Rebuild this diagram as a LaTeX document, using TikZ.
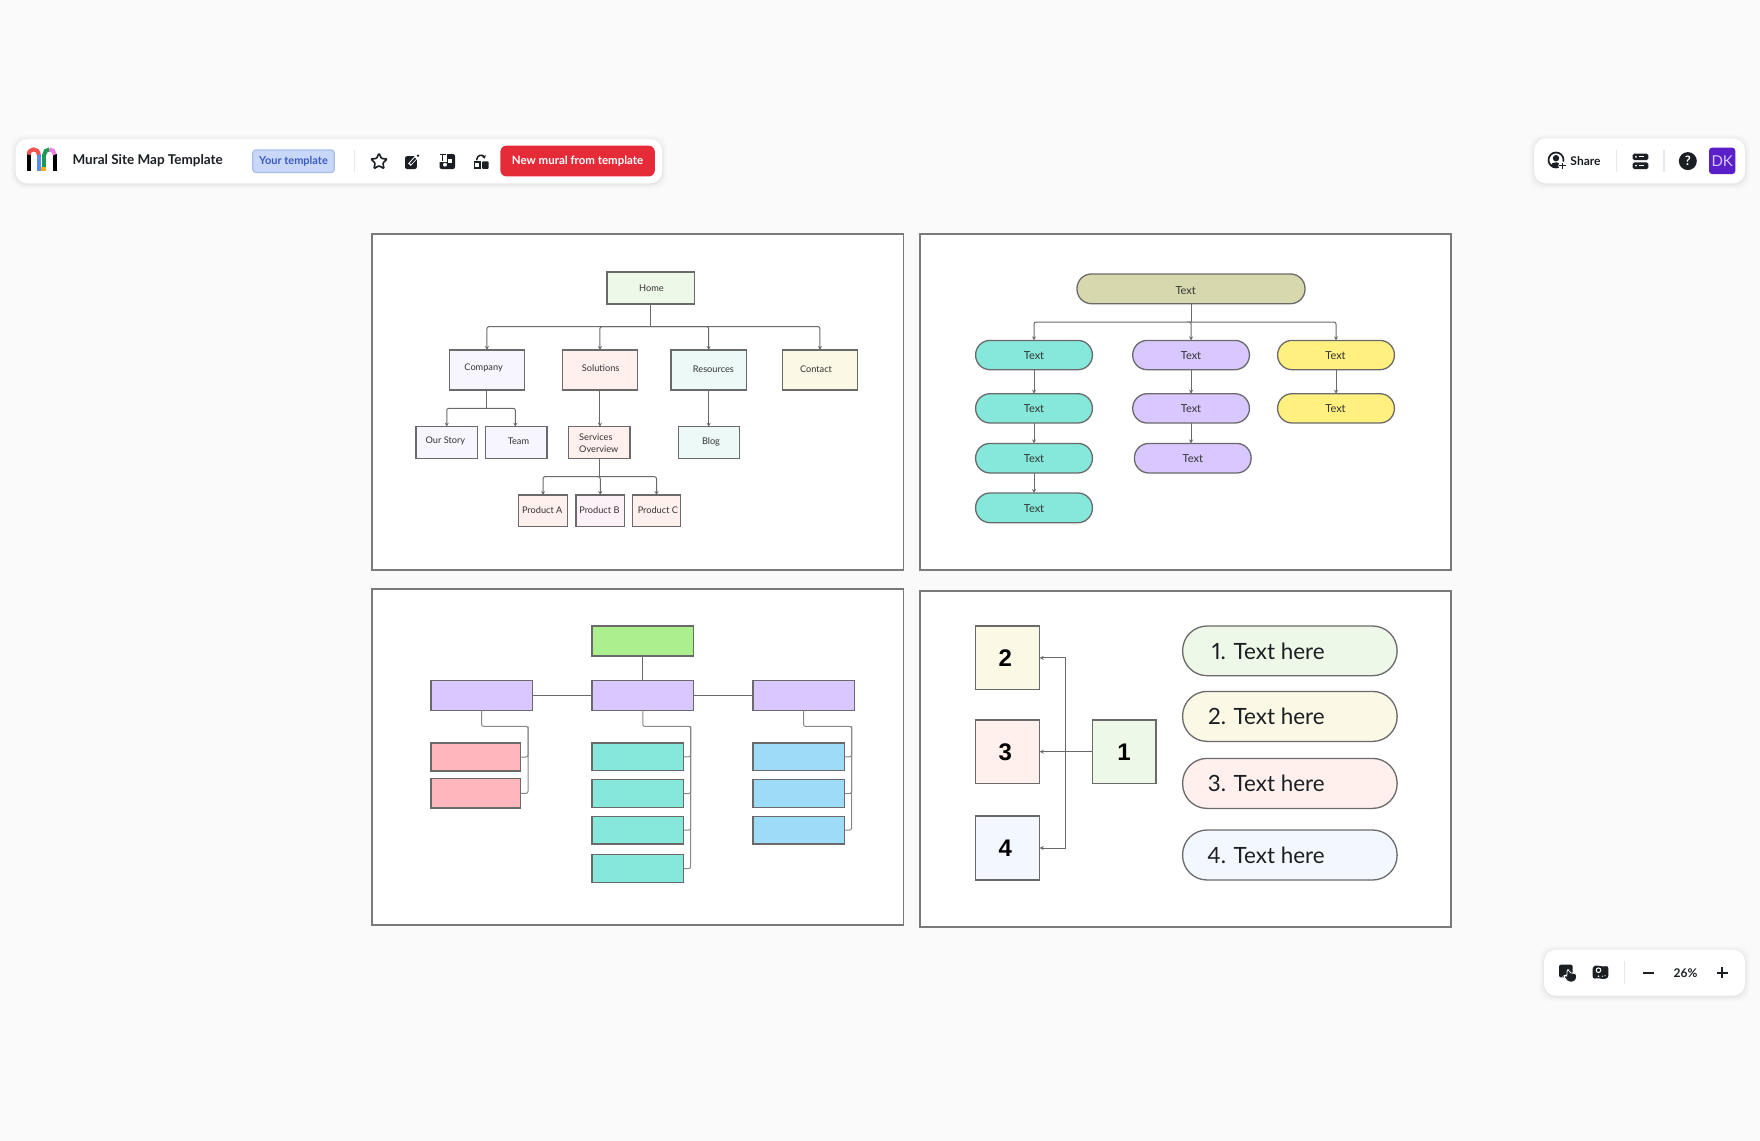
\documentclass[tikz,border=0pt]{standalone}
\usepackage{fontspec}
\setmainfont{Lato}
\newfontfamily\boldface{Liberation Sans}
\newfontfamily\propface[Numbers=Proportional]{Lato}
\usetikzlibrary{arrows.meta,shapes.geometric}
\definecolor{bgc}{HTML}{FAFAFA}
\definecolor{ink}{HTML}{1B1F23}
\definecolor{edgec}{HTML}{6A6A6A}
\definecolor{framec}{HTML}{7A7A7A}
\definecolor{sepc}{HTML}{E4E9F0}
\definecolor{txt}{HTML}{333333}
\definecolor{fgreen}{HTML}{EEF8E8}
\definecolor{flav}{HTML}{F7F6FE}
\definecolor{fpink}{HTML}{FFF0EE}
\definecolor{fmint}{HTML}{ECF9F7}
\definecolor{fcream}{HTML}{FBF8E6}
\definecolor{frose}{HTML}{FCF1F7}
\definecolor{fblue}{HTML}{F3F8FF}
\definecolor{olive}{HTML}{D8D8AE}
\definecolor{teal}{HTML}{86E8DA}
\definecolor{purp}{HTML}{D9C7FF}
\definecolor{yell}{HTML}{FFF07F}
\definecolor{lime}{HTML}{ABEF8F}
\definecolor{rosy}{HTML}{FFB7BD}
\definecolor{sky}{HTML}{9EDBF9}
\tikzset{
  panelbox/.style={draw=framec,line width=1.6pt,fill=white,rectangle,inner sep=0pt,outer sep=0pt},
  sitebox/.style={draw=edgec,line width=1.3pt,rectangle,inner sep=0pt,outer sep=0pt},
  pillbox/.style={draw=edgec,line width=1.3pt,rectangle,inner sep=0pt,outer sep=0pt,rounded corners=14.5pt},
  bigpill/.style={draw=edgec,line width=1.3pt,rectangle,inner sep=0pt,outer sep=0pt,rounded corners=24.5pt},
  conn/.style={draw=edgec,line width=1pt,rounded corners=2pt},
  arrowed/.style={conn,-{Stealth[length=4pt,width=4pt]}},
  lbl/.style={text=txt,inner sep=0pt,yshift=-0.5pt,font=\fontsize{9.2}{11.3}\selectfont},
  pilltext/.style={text=txt,inner sep=0pt,yshift=-0.5pt,font=\fontsize{11}{13}\selectfont},
  bigtext/.style={text=ink,inner sep=0pt,anchor=east,font=\propface\fontsize{22.4}{26}\selectfont},
  numtext/.style={text=black,inner sep=0pt,yshift=-0.4pt,font=\boldface\bfseries\fontsize{24}{28}\selectfont},
  bartext/.style={text=ink,inner sep=0pt,yshift=-0.6pt,font=\bfseries\fontsize{12}{14}\selectfont},
  sepline/.style={draw=sepc,line width=1.2pt},
  icon/.style={fill=ink,draw=none},
  logostroke/.style={line width=4pt,line cap=butt},
}
\newcommand{\bx}[6]{\node[#6,minimum width={(#4-#2)*1pt},minimum height={(#5-#3)*1pt}] (#1) at ({(#2+#4)/2},{(#3+#5)/2}) {};}
\newcommand{\toolbar}[5]{%
  \foreach \g/\o in {5/0.012,3.5/0.015,2/0.02,1/0.025}{\fill[black,opacity=\o,rounded corners=13pt] ({#2-\g},{#3-\g+1}) rectangle ({#4+\g},{#5+\g+1});}
  \bx{#1}{#2}{#3}{#4}{#5}{fill=white,rectangle,rounded corners=12pt,inner sep=0pt}}
\begin{document}
\begin{tikzpicture}[x=1pt,y=-1pt]
\useasboundingbox (0,-0.7) rectangle (1760,1139.3);
\fill[bgc] (0,-2) rectangle (1760,1142);

% panels
\bx{p1}{372}{233.5}{903.5}{569}{panelbox}
\bx{p2}{920}{233.5}{1451}{569}{panelbox}
\bx{p3}{372}{588.5}{903.5}{924.5}{panelbox}
\bx{p4}{920}{590}{1451}{926}{panelbox}

% ---------- panel 1
\bx{home}{607}{271.3}{694.8}{303.3}{sitebox,fill=fgreen}
\bx{company}{449.2}{349.3}{524.6}{389.3}{sitebox,fill=flav}
\bx{solutions}{562.2}{349.3}{637.6}{389.3}{sitebox,fill=fpink}
\bx{resources}{671}{349.3}{746.4}{389.3}{sitebox,fill=fmint}
\bx{contact}{782.2}{349.3}{857.7}{389.3}{sitebox,fill=fcream}
\bx{story}{416.1}{426}{477.4}{458}{sitebox,fill=flav}
\bx{team}{485.7}{426}{547}{458}{sitebox,fill=flav}
\bx{services}{568.7}{426}{630}{458}{sitebox,fill=fpink}
\bx{blog}{678.2}{426}{739.5}{458}{sitebox,fill=fmint}
\bx{proda}{518.8}{494.3}{567.3}{525.7}{sitebox,fill=fpink}
\bx{prodb}{576}{494.3}{624.5}{525.7}{sitebox,fill=frose}
\bx{prodc}{632.4}{494.3}{680.6}{525.7}{sitebox,fill=fpink}
\node[lbl] (thome) at (651.4,287.3) {Home};
\node[lbl] (tcompany) at (483.6,367) {Company};
\node[lbl] (tsolutions) at (600.7,367) {Solutions};
\node[lbl] (tresources) at (713.4,368) {Resources};
\node[lbl] (tcontact) at (816,368) {Contact};
\node[lbl] (tstory) at (445.4,440) {Our Story};
\node[lbl] (tteam) at (518.4,440) {Team};
\node[lbl,anchor=west,align=left] (tservices) at (579,442) {Services\\Overview};
\node[lbl] (tblog) at (711,440.3) {Blog};
\node[lbl] (tproda) at (542.2,508.7) {Product A};
\node[lbl] (tprodb) at (599.4,508.7) {Product B};
\node[lbl] (tprodc) at (657.9,508.7) {Product C};
\coordinate (bus1) at (home.south |- 0,326);
\coordinate (bus2) at (company.south |- 0,407.7);
\coordinate (bus3) at (services.south |- 0,476);
\draw[conn] (home.south) -- (bus1);
\foreach \n in {company,solutions,resources,contact}{\draw[arrowed] (bus1) -| (\n.north);}
\draw[conn] (company.south) -- (bus2);
\draw[arrowed] (bus2) -| (story.north);
\draw[arrowed] (bus2) -| ([xshift=-1pt]team.north);
\draw[arrowed] (solutions.south) -- (services.north -| solutions.south);
\draw[arrowed] (resources.south) -- (blog.north -| resources.south);
\draw[conn] (services.south) -- (bus3);
\foreach \n in {proda,prodb,prodc}{\draw[arrowed] (bus3) -| (\n.north);}

% ---------- panel 2
\bx{troot}{1077}{273.3}{1305}{303}{pillbox,fill=olive}
\bx{ta}{975.6}{339.7}{1092.4}{369}{pillbox,fill=teal}
\bx{tb}{975.6}{393}{1092.4}{422.3}{pillbox,fill=teal}
\bx{tc}{975.6}{442.7}{1092.4}{472.3}{pillbox,fill=teal}
\bx{td}{975.6}{492.3}{1092.4}{522}{pillbox,fill=teal}
\bx{pa}{1132.7}{339.7}{1249.4}{369}{pillbox,fill=purp}
\bx{pb}{1132.7}{393}{1249.4}{422.3}{pillbox,fill=purp}
\bx{pc}{1134.4}{442.7}{1251.1}{472.3}{pillbox,fill=purp}
\bx{ya}{1277.6}{339.7}{1394.4}{369}{pillbox,fill=yell}
\bx{yb}{1277.6}{393}{1394.4}{422.3}{pillbox,fill=yell}
\node[pilltext] (ttroot) at (1185.7,289.3) {Text};
\foreach \n/\xx/\yy in {ta/1034/354,tb/1034/407,tc/1034/457.7,td/1034/507,pa/1191/354,pb/1191/407,pc/1192.8/457.7,ya/1335.5/354,yb/1335.5/407}{
  \node[pilltext] (t\n) at (\xx,\yy) {Text};}
\coordinate (bus4) at (troot.south |- 0,321.3);
\draw[conn] (troot.south) -- (bus4);
\foreach \n in {ta,pa,ya}{\draw[arrowed] (bus4) -| (\n.north);}
\draw[arrowed] (ta) -- (tb);
\draw[arrowed] (tb) -- (tc);
\draw[arrowed] (tc) -- (td);
\draw[arrowed] (pa) -- (pb);
\draw[arrowed] (pb.south) -- (pc.north -| pb.south);
\draw[arrowed] (ya) -- (yb);

% ---------- panel 3
\bx{top}{592.1}{625.3}{693.4}{655.3}{sitebox,fill=lime}
\bx{ml}{431}{679.7}{532.2}{709.7}{sitebox,fill=purp}
\bx{mm}{592.1}{679.7}{693.4}{709.7}{sitebox,fill=purp}
\bx{mr}{753}{679.7}{854.2}{709.7}{sitebox,fill=purp}
\bx{ra}{431}{742.3}{520.5}{770.3}{sitebox,fill=rosy}
\bx{rb}{431}{778}{520.5}{807.3}{sitebox,fill=rosy}
\bx{ga}{592.1}{742.3}{683.7}{770}{sitebox,fill=teal}
\bx{gb}{592.1}{779}{683.7}{806.7}{sitebox,fill=teal}
\bx{gc}{592.1}{815.7}{683.7}{843.3}{sitebox,fill=teal}
\bx{gd}{592.1}{854}{683.7}{881.7}{sitebox,fill=teal}
\bx{sa}{753}{742.3}{844.6}{770}{sitebox,fill=sky}
\bx{sb}{753}{779}{844.6}{806.7}{sitebox,fill=sky}
\bx{sc}{753}{815.7}{844.6}{843.3}{sitebox,fill=sky}
\draw[conn] (top) -- (mm);
\draw[conn] (ml) -- (mm);
\draw[conn] (mm) -- (mr);
\coordinate (cl) at (528,725.7);
\coordinate (cm) at (690.6,725.7);
\coordinate (cr) at (851.5,725.7);
\draw[conn,draw=edgec!80] (ml.south) |- (cl) |- (ra.east);
\draw[conn,draw=edgec!80] (cl) |- (rb.east);
\draw[conn,draw=edgec!80] (mm.south) |- (cm) |- (ga.east);
\draw[conn,draw=edgec!80] (cm) |- (gb.east);
\draw[conn,draw=edgec!80] (cm) |- (gc.east);
\draw[conn,draw=edgec!80] (cm) |- (gd.east);
\draw[conn,draw=edgec!80] (mr.south) |- (cr) |- (sa.east);
\draw[conn,draw=edgec!80] (cr) |- (sb.east);
\draw[conn,draw=edgec!80] (cr) |- (sc.east);

% ---------- panel 4
\bx{n2}{975.6}{625.3}{1039.7}{689}{sitebox,line width=1.2pt,fill=fcream}
\bx{n3}{975.6}{719.3}{1039.7}{782.7}{sitebox,line width=1.2pt,fill=fpink}
\bx{n4}{975.6}{815.3}{1039.7}{879.3}{sitebox,line width=1.2pt,fill=fblue}
\bx{n1}{1092.4}{719.3}{1156}{782.7}{sitebox,line width=1.2pt,fill=fgreen}
\node[numtext] (tn2) at (1005.2,657) {2};
\node[numtext] (tn3) at (1005.2,750.7) {3};
\node[numtext] (tn4) at (1005.2,847) {4};
\node[numtext] (tn1) at (1124,750.7) {1};
\coordinate (bus5) at (1065.5,751);
\draw[conn,rounded corners=0pt,line width=1.5pt] (n1.west) -- (bus5);
\draw[arrowed,rounded corners=0pt] (bus5) -- (n3.east);
\draw[arrowed,rounded corners=0pt] (bus5) |- (n2.east);
\draw[arrowed,rounded corners=0pt] (bus5) |- (n4.east);
\bx{la}{1182.6}{625.3}{1397.1}{675}{bigpill,fill=fgreen}
\bx{lb}{1182.6}{690.7}{1397.1}{740.7}{bigpill,fill=fcream}
\bx{lc}{1182.6}{757.7}{1397.1}{807.7}{bigpill,fill=fpink}
\bx{ld}{1182.6}{829.3}{1397.1}{879.3}{bigpill,fill=fblue}
\node[bigtext] (tla) at (1324.8,650.3) {1. Text here};
\node[bigtext] (tlb) at (1324.8,716) {2. Text here};
\node[bigtext] (tlc) at (1324.8,782.3) {3. Text here};
\node[bigtext] (tld) at (1324.8,854.7) {4. Text here};

% ---------- toolbar left
\toolbar{barl}{15.6}{138.3}{662.2}{182.7}
\draw[logostroke,black] (28.7,170.5) -- (28.7,153.5);
\draw[logostroke,black] (54.7,170.5) -- (54.7,153.5);
\draw[logostroke,color={rgb,255:red,91;green,141;blue,240}] (38.7,170.5) -- (38.7,153.5);
\draw[logostroke,color={rgb,255:red,31;green,154;blue,85}] (44.3,170.5) -- (44.3,153.5);
\fill[color={rgb,255:red,245;green,174;blue,26}] (40.7,166) rectangle (46.3,170.5);
\draw[logostroke,color={rgb,255:red,240;green,82;blue,79}] (28.7,154) .. controls (28.7,147) and (38.7,147) .. (38.7,154);
\draw[logostroke,color={rgb,255:red,31;green,154;blue,85}] (44.3,154) .. controls (44.3,151) and (46.5,148.7) .. (49.5,148.7);
\draw[logostroke,color={rgb,255:red,240;green,124;blue,232}] (49.5,148.7) .. controls (52.5,148.7) and (54.7,151) .. (54.7,154);
\node[text=ink,inner sep=0pt,anchor=west,yshift=-0.6pt,font=\bfseries\fontsize{13.5}{16}\selectfont] (title) at (72.4,159.5) {Mural Site Map Template};
\bx{badge}{252.8}{149.3}{334.3}{171.7}{draw={rgb,255:red,167;green,189;blue,235},fill={rgb,255:red,201;green,216;blue,249},line width=1.2pt,rectangle,rounded corners=3pt,inner sep=0pt}
\node[text={rgb,255:red,59;green,91;blue,192},inner sep=0pt,yshift=-0.6pt,font=\bfseries\fontsize{11}{13}\selectfont] (tbadge) at (293.5,160) {Your template};
\draw[sepline] (354.7,149.3) -- (354.7,171.7);
% star
\node[star,star points=5,star point ratio=2.1,draw=ink,line width=1.6pt,fill=white,minimum size=17pt,inner sep=0pt,rounded corners=1pt] (istar) at (379,161) {};
% edit
\fill[icon,rounded corners=2pt] (405,155.5) rectangle (416.8,168.3);
\draw[white,line width=3.6pt] (409.5,164) -- (418,154.5);
\draw[ink,line width=1.8pt] (410.5,163) -- (415.5,157.5);
\fill[ink] (418,155) circle (1.3);
% shapes
\fill[icon,rounded corners=2pt] (439.5,153.3) rectangle (455,168.3);
\fill[white] (439,153) rectangle (447,161);
\draw[ink,line width=1.3pt] (440,154) -- (445.5,154) (442.7,154) -- (442.7,160);
\fill[white] (448,158) rectangle (452,162);
\fill[white] (445,164) circle (2);
% share-lock
\draw[ink,line width=1.6pt,fill=white] (474.5,161.5) rectangle (480,167.5);
\fill[icon,rounded corners=1pt] (482,160.7) rectangle (488.7,168.2);
\draw[ink,line width=1.5pt,-{Stealth[length=3.5pt,width=4.5pt]}] (476.5,159.5) .. controls (477,153.5) and (483,153.5) .. (485,158);
\bx{newbtn}{500.4}{145}{654.8}{175.7}{fill={rgb,255:red,229;green,42;blue,56},rectangle,rounded corners=6pt,inner sep=0pt}
\node[text=white,inner sep=0pt,yshift=-0.6pt,font=\bfseries\fontsize{11.5}{13}\selectfont] (tnew) at (577.6,160) {New mural from template};

% ---------- toolbar right
\toolbar{barr}{1534}{137.7}{1745}{182.7}
\draw[ink,line width=1.7pt] (1556,159.3) circle (7.5);
\fill[ink] (1556,157.5) circle (3.2);
\fill[ink] (1550.5,165) .. controls (1551,160.5) and (1561,160.5) .. (1561.5,165) -- (1556,167) -- cycle;
\fill[white] (1562.5,165) circle (4.3);
\draw[ink,line width=1.4pt] (1559.3,165) -- (1565.7,165) (1562.5,162) -- (1562.5,168);
\node[bartext] (tshare) at (1585.5,159.7) {Share};
\draw[sepline] (1616.7,149.3) -- (1616.7,171.7);
\fill[icon,rounded corners=1.5pt] (1632.7,153) rectangle (1648.3,159.3);
\fill[icon,rounded corners=1.5pt] (1632.7,161.7) rectangle (1648.3,168.3);
\fill[white] (1636,156.2) circle (1);
\fill[white] (1636,165) circle (1);
\draw[white,line width=1pt] (1638.5,156.2) -- (1644,156.2) (1638.5,165) -- (1644,165);
\draw[sepline] (1664,149.3) -- (1664,171.7);
\node[circle,fill=ink,minimum size=18pt,inner sep=0pt,text=white,font=\bfseries\fontsize{13}{14}\selectfont] (ihelp) at (1687.8,160.4) {?};
\bx{dkbox}{1709}{147}{1735.3}{173.3}{fill={rgb,255:red,90;green,31;blue,201},rectangle,rounded corners=3pt,inner sep=0pt}
\node[text={rgb,255:red,216;green,200;blue,248},inner sep=0pt,font=\fontsize{15}{16}\selectfont] (tdk) at (1722.2,160.2) {DK};

% ---------- toolbar bottom
\toolbar{barb}{1544}{949}{1745}{995}
\fill[icon,rounded corners=2pt] (1559,964) rectangle (1572.7,976.7);
\draw[white,line width=0.8pt,fill=ink,rounded corners=1.5pt] (1567,969) -- (1569.3,969) -- (1569.3,972) -- (1576.6,973) -- (1576.6,978) -- (1574,981.2) -- (1568,981.2) -- (1563.5,975.5) -- (1565,974.5) -- (1567,975.5) -- cycle;
\fill[icon,rounded corners=2.5pt] (1592.7,965.5) -- (1597,964.6) -- (1603,966) -- (1608.3,965) -- (1608.3,977.5) -- (1603,978.4) -- (1597,977.2) -- (1592.7,978.4) -- cycle;
\draw[white,line width=1pt] (1598.5,969.5) circle (2.3);
\fill[white] (1598.5,975.5) circle (0.9);
\fill[white] (1602.5,975.5) circle (0.6);
\fill[white] (1605,975) circle (0.6);
\draw[sepline] (1624.3,960.5) -- (1624.3,983.5);
\draw[ink,line width=2.4pt] (1642.7,972) -- (1654,972);
\node[bartext] (tzoom) at (1685.5,972) {26\%};
\draw[ink,line width=2.4pt] (1716.7,972) -- (1727.7,972) (1722.2,966.5) -- (1722.2,977.5);
\end{tikzpicture}
\end{document}
